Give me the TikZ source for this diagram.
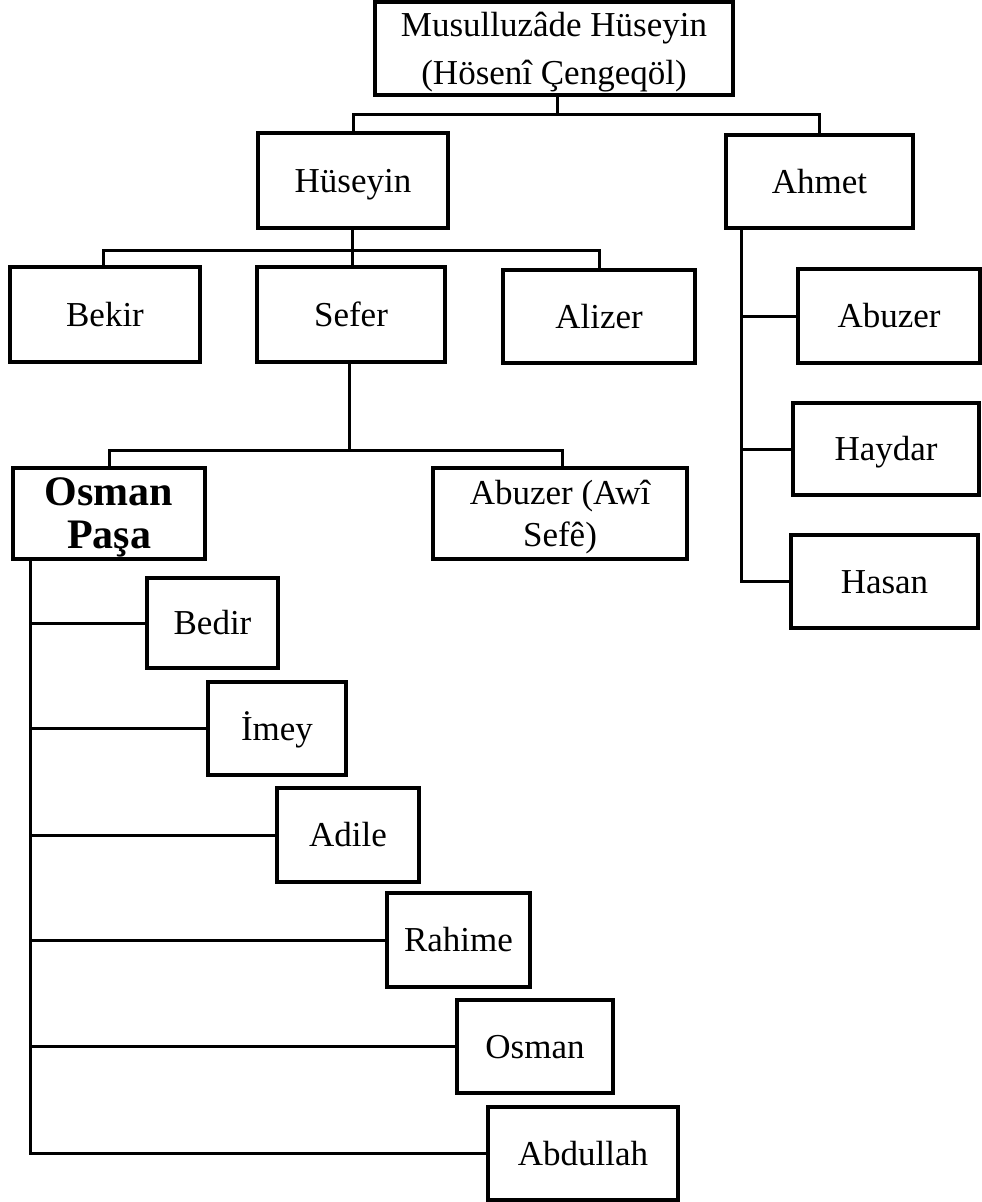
\documentclass[tikz,border=0pt]{standalone}
\usepackage{fontspec}
\setmainfont{Liberation Serif}
\usetikzlibrary{calc}
\tikzset{
  boxbase/.style={draw, line width=3.4pt, rectangle, inner sep=0pt, align=center},
  person/.style={boxbase, font=\fontsize{35}{44}\selectfont, text height=23pt, text depth=0pt},
  twoline/.style={boxbase, font=\fontsize{35}{48}\selectfont, text depth=0pt},
  chief/.style={boxbase, font=\fontsize{42}{43}\selectfont\bfseries, text depth=0pt},
  link/.style={line width=3pt, line join=miter},
}
\begin{document}
\begin{tikzpicture}[x=1pt,y=-1pt]
\useasboundingbox (0,0) rectangle (982,1202);
% generation 1
\node[twoline, minimum width=358pt, minimum height=93pt] (mh) at (554,48.5) {Musulluzâde Hüseyin\\(Hösenî Çengeqöl)};
% generation 2
\node[person, minimum width=190pt, minimum height=95pt] (hu) at (353,180.5) {Hüseyin};
\node[person, minimum width=187pt, minimum height=93pt] (ah) at (819.5,181.5) {Ahmet};
% generation 3
\node[person, minimum width=190pt, minimum height=95pt] (be) at (105,314.5) {Bekir};
\node[person, minimum width=188pt, minimum height=95pt] (se) at (351,314.5) {Sefer};
\node[person, minimum width=192pt, minimum height=93pt] (al) at (599,316.5) {Alizer};
\node[person, minimum width=182pt, minimum height=94pt] (ab) at (889,316) {Abuzer};
\node[person, minimum width=186pt, minimum height=92pt] (ha) at (886,449) {Haydar};
\node[person, minimum width=187pt, minimum height=93pt] (hs) at (884.5,581.5) {Hasan};
% generation 4
\node[chief, minimum width=192pt, minimum height=91pt] (op) at (109,513.5) {Osman\\Paşa};
\node[twoline, minimum width=254pt, minimum height=91pt, font=\fontsize{35}{42}\selectfont] (aw) at (560,513.5) {Abuzer (Awî\\Sefê)};
% generation 5
\node[person, minimum width=131pt, minimum height=90pt] (bd) at (212.5,623) {Bedir};
\node[person, minimum width=138pt, minimum height=93pt] (im) at (277,728.5) {İmey};
\node[person, minimum width=142pt, minimum height=94pt] (ad) at (348,835) {Adile};
\node[person, minimum width=143pt, minimum height=94pt] (ra) at (458.5,940) {Rahime};
\node[person, minimum width=156pt, minimum height=93pt] (os) at (535,1046.5) {Osman};
\node[person, minimum width=190pt, minimum height=93pt] (au) at (583,1153.5) {Abdullah};
% junctions
\coordinate (j1) at ($(mh.south)+(3,18)$);
\draw[link] ($(mh.south)+(3,0)$) -- (j1);
\draw[link] (hu.north) |- (j1) -| (ah.north);

\coordinate (j2) at ($(hu.south)+(-1,21)$);
\draw[link] ($(hu.south)+(-1,0)$) -- (j2);
\draw[link] ($(be.north)+(-2,0)$) |- (j2) -| (al.north);
\draw[link] (j2) -- ($(se.north)+(1,0)$);

\coordinate (j3) at ($(se.south)+(-2,87)$);
\draw[link] ($(se.south)+(-2,0)$) -- (j3);
\draw[link] (op.north) |- (j3) -| ($(aw.north)+(2,0)$);

% Ahmet's children
\coordinate (ahx) at ($(ah.south west)+(17,0)$);
\draw[link] (ahx) |- (hs.west);
\draw[link] (ab.west) -| (ahx);
\draw[link] (ha.west) -| (ahx);

% Osman Pasa's children
\coordinate (opx) at ($(op.south west)+(19,0)$);
\draw[link] (opx) |- (au.west);
\foreach \c in {bd,im,ad,ra,os}{
  \draw[link] (\c.west) -| (opx);
}
\end{tikzpicture}
\end{document}
